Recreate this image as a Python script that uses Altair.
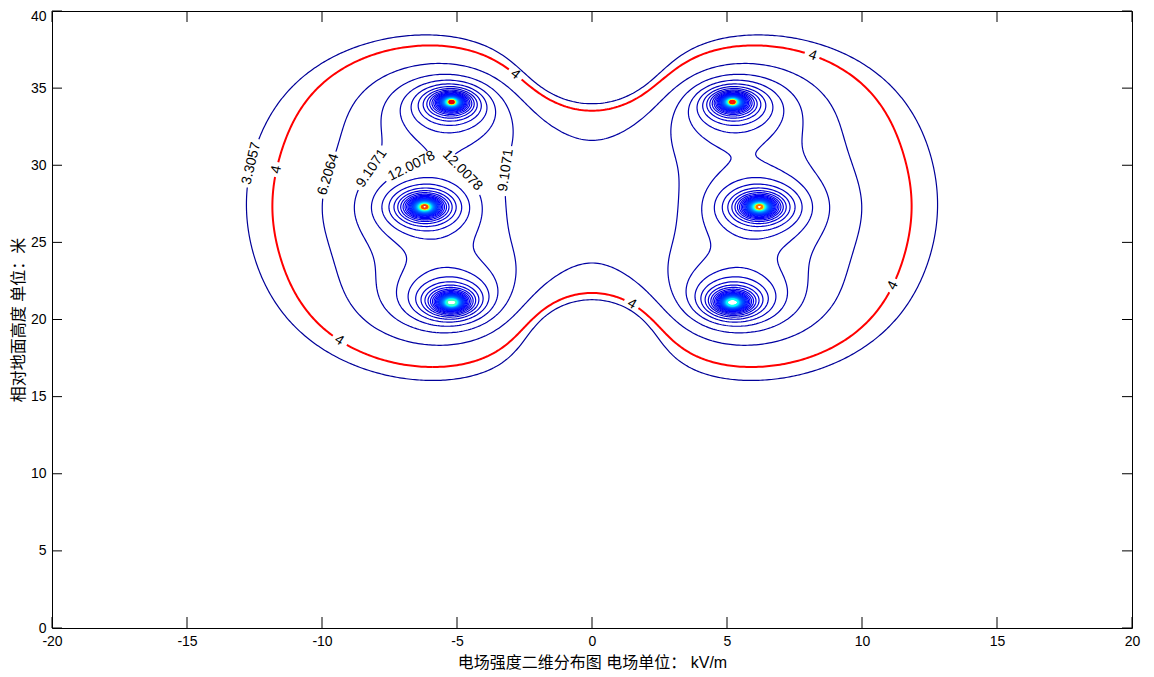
import numpy as np
import pandas as pd
import altair as alt

alt.data_transformers.disable_max_rows()

# ---------------- values ----------------
cond_x = [-5.2, -6.2, -5.2, 5.2, 6.2, 5.2]            # conductor x (m)
cond_y = [34.1, 27.3, 21.1, 34.1, 27.3, 21.1]          # conductor height (m)
cond_phase = [0, -120, 120, 0, -120, 120]              # nominal phase (deg)
cond_peak = [265, 240, 130, 255, 225, 115]             # highest ring level seen at each conductor (kV/m)

# points (x m, y m, level kV/m) used to size the line charges
fit_x = [-12.7, -6.0, -6.0, 0.0, 0.0, -11.74, -6.0, -6.0, 0.0, 0.0, -9.9, 0.0, 0.0, -8.67, -3.15, -6.26, -4.2]
fit_y = [28.0, 38.45, 15.95, 34.1, 21.0, 27.75, 37.8, 16.86, 33.6, 21.8, 28.4, 31.5, 23.9, 27.75, 27.75, 30.8, 26.8]
fit_level = [3.3057, 3.3057, 3.3057, 3.3057, 3.3057, 4, 4, 4, 4, 4, 6.2064, 6.2064, 6.2064,
             9.1071, 9.1071, 12.0078, 12.0078]
fit_weight = [4, 1, 1, 1, 1, 4, 1, 1, 1, 1, 2, 1, 1, 1, 1, 4, 1.5]

level_first = 3.3057
level_step = 2.9007
level_count = 100
red_level = 4.0

x_ticks = [-20, -15, -10, -5, 0, 5, 10, 15, 20]
y_ticks = [0, 5, 10, 15, 20, 25, 30, 35, 40]

label_text = ["3.3057", "4", "6.2064", "9.1071", "12.0078", "12.0078", "9.1071", "4", "4", "4", "4", "4"]
label_level = [3.3057, 4.0, 6.2064, 9.1071, 12.0078, 12.0078, 9.1071, 4.0, 4.0, 4.0, 4.0, 4.0]
label_x = [-12.4, -11.55, -9.7, -8.14, -6.8, -4.47, -3.06, -2.88, 8.13, 11.13, 1.42, -9.4]
label_y = [30.0, 29.7, 29.4, 29.8, 30.3, 30.3, 29.7, 35.85, 36.95, 22.24, 20.94, 18.55]

x_title = "电场强度二维分布图 电场单位： kV/m"
y_title = "相对地面高度 单位：米"

# ---------------- layout ----------------
W, H = 1080, 617
SX, SY = W / 40.0, H / 40.0
FONT = "Liberation Sans, Arial, Noto Sans CJK SC"

cx = np.array(cond_x, float)
cy = np.array(cond_y, float)
grp = np.arange(len(cx)) % 3


def magnitude(Ex, Ey):
    return np.sqrt(np.abs(Ex) ** 2 + np.abs(Ey) ** 2)


# ---------------- size the line charges on the read contour points ----------------
pxs = np.array(fit_x)
pys = np.array(fit_y)
G = np.zeros((len(cx), 2, len(pxs)))
for idx in range(len(cx)):
    for sgn, yy in ((1.0, cy[idx]), (-1.0, -cy[idx])):
        dx = pxs - cx[idx]
        dy = pys - yy
        r2 = dx * dx + dy * dy
        G[idx, 0] += sgn * dx / r2
        G[idx, 1] += sgn * dy / r2
LV = np.array(fit_level)
WT = np.array(fit_weight, float)


def group_fields(ph):
    F = np.zeros((3, 2, len(pxs)), complex)
    for idx in range(len(cx)):
        F[grp[idx]] += np.exp(1j * np.deg2rad(ph[grp[idx]])) * G[idx]
    return F


def ksearch(F, vt, vm, vb):
    KT, KM, KB = np.meshgrid(vt, vm, vb, indexing='ij')
    K = np.stack([KT.ravel(), KM.ravel(), KB.ravel()], 1).astype(complex)
    E = magnitude(K @ F[:, 0, :], K @ F[:, 1, :])
    err = ((np.log(E / LV) ** 2) * WT).sum(axis=1)
    i = int(np.argmin(err))
    return err[i], K[i].real


best = None
kv = np.arange(14, 36.1, 1.0)
for dm in range(-24, 25, 4):
    for db in range(-24, 25, 4):
        ph = [cond_phase[0], cond_phase[1] + dm, cond_phase[2] + db]
        e, k = ksearch(group_fields(ph), kv, kv, kv)
        if best is None or e < best[0]:
            best = (e, k, ph)
_, k0, ph0 = best
for dm in range(-3, 4):
    for db in range(-3, 4):
        ph = [ph0[0], ph0[1] + dm, ph0[2] + db]
        fine = np.arange(-1.0, 1.01, 0.1)
        e, k = ksearch(group_fields(ph), k0[0] + fine, k0[1] + fine, k0[2] + fine)
        if e < best[0]:
            best = (e, k, ph)
_, kfit, phfit = best
charges = np.array([kfit[g] * np.exp(1j * np.deg2rad(phfit[g])) for g in grp])


def field(X, Y):
    Ex = np.zeros(X.shape, complex)
    Ey = np.zeros(X.shape, complex)
    for xc, yc, q in zip(cx, cy, charges):
        for sgn, yy in ((1.0, yc), (-1.0, -yc)):
            dx = X - xc
            dy = Y - yy
            r2 = dx * dx + dy * dy
            Ex += sgn * q * dx / r2
            Ey += sgn * q * dy / r2
    return magnitude(Ex, Ey)


CASES = {1: [('l', 'b')], 2: [('b', 'r')], 3: [('l', 'r')], 4: [('r', 't')], 6: [('b', 't')],
         7: [('l', 't')], 8: [('t', 'l')], 9: [('b', 't')], 11: [('r', 't')], 12: [('l', 'r')],
         13: [('b', 'r')], 14: [('l', 'b')]}


def march(xs, ys, Z, level):
    B = Z > level
    c = B[:-1, :-1] * 1 + B[:-1, 1:] * 2 + B[1:, 1:] * 4 + B[1:, :-1] * 8
    cells = np.argwhere((c > 0) & (c < 15))

    def key(i, j, e):
        if e == 'b':
            return ('h', i, j)
        if e == 't':
            return ('h', i + 1, j)
        if e == 'l':
            return ('v', i, j)
        return ('v', i, j + 1)

    adj = {}
    for i, j in cells:
        i = int(i); j = int(j)
        cc = int(c[i, j])
        if cc == 5 or cc == 10:
            center = (Z[i, j] + Z[i, j + 1] + Z[i + 1, j] + Z[i + 1, j + 1]) / 4 > level
            if cc == 5:
                segs = [('b', 'r'), ('l', 't')] if center else [('l', 'b'), ('r', 't')]
            else:
                segs = [('l', 'b'), ('r', 't')] if center else [('b', 'r'), ('t', 'l')]
        else:
            segs = CASES[cc]
        for e1, e2 in segs:
            a = key(i, j, e1)
            b = key(i, j, e2)
            adj.setdefault(a, []).append(b)
            adj.setdefault(b, []).append(a)

    def pt(k):
        t, i, j = k
        if t == 'h':
            z0, z1 = Z[i, j], Z[i, j + 1]
            f = (level - z0) / (z1 - z0)
            return (xs[j] + f * (xs[j + 1] - xs[j]), ys[i])
        z0, z1 = Z[i, j], Z[i + 1, j]
        f = (level - z0) / (z1 - z0)
        return (xs[j], ys[i] + f * (ys[i + 1] - ys[i]))

    visited = set()

    def walk(start):
        path = [start]
        visited.add(start)
        cur = start
        while True:
            nxt = None
            for n in adj[cur]:
                if n not in visited:
                    nxt = n
                    break
            if nxt is None:
                break
            path.append(nxt)
            visited.add(nxt)
            cur = nxt
        return path

    out = []
    for k, v in adj.items():
        if len(v) == 1 and k not in visited:
            p = walk(k)
            out.append((np.array([pt(q) for q in p]), False))
    for k in adj:
        if k not in visited:
            p = walk(k)
            closed = len(p) > 2 and p[0] in adj[p[-1]]
            if closed:
                p.append(p[0])
            out.append((np.array([pt(q) for q in p]), closed))
    return out


def to_px(P):
    return np.column_stack(((P[:, 0] + 20) * SX, (40 - P[:, 1]) * SY))


def decimate(P, min_px=1.5):
    Q = to_px(P)
    keep = [0]
    lx, ly = Q[0]
    for k in range(1, len(P) - 1):
        if (Q[k, 0] - lx) ** 2 + (Q[k, 1] - ly) ** 2 >= min_px * min_px:
            keep.append(k)
            lx, ly = Q[k]
    keep.append(len(P) - 1)
    return P[keep]


levels = [level_first + level_step * j for j in range(level_count)]
lines = []   # dicts: level, red, P, closed

gx = np.arange(-16.0, 16.0001, 0.04)
gy = np.arange(12.0, 40.0001, 0.04)
GX, GY = np.meshgrid(gx, gy)
GZ = field(GX, GY)
for lv in levels[:7]:
    for P, closed in march(gx, gy, GZ, lv):
        if len(P) > 2:
            lines.append(dict(level=lv, red=False, P=decimate(P), closed=closed))
for P, closed in march(gx, gy, GZ, red_level):
    if len(P) > 2:
        lines.append(dict(level=red_level, red=True, P=decimate(P), closed=closed))

n_loc = 320
off = (np.arange(n_loc) - (n_loc - 1) / 2.0) * 0.01
for xc, yc, peak in zip(cond_x, cond_y, cond_peak):
    lx = xc + off
    ly = yc + off
    LX, LY = np.meshgrid(lx, ly)
    LZ = field(LX, LY)
    for lv in levels[7:]:
        if lv > peak:
            break
        for P, closed in march(lx, ly, LZ, lv):
            if closed and len(P) > 3:
                lines.append(dict(level=lv, red=False, P=decimate(P, 1.2), closed=True))


def text_width(s):
    return sum(3.9 if ch == '.' else 7.8 for ch in s)


lab_rows = []
for txt, lv, lxv, lyv in zip(label_text, label_level, label_x, label_y):
    is_red = abs(lv - red_level) < 1e-6
    cands = [ln for ln in lines if ln['red'] == is_red and abs(ln['level'] - lv) < 1e-3]
    if not cands:
        continue
    target = np.array([(lxv + 20) * SX, (40 - lyv) * SY])
    best = None
    for ln in cands:
        Q = to_px(ln['P'])
        d = ((Q - target) ** 2).sum(axis=1)
        k = int(np.argmin(d))
        if best is None or d[k] < best[0]:
            best = (d[k], ln, k)
    _, ln, k = best
    Q = to_px(ln['P'])
    n = len(Q)
    if ln['closed']:
        a = Q[(k - 4) % (n - 1)]
        b = Q[(k + 4) % (n - 1)]
    else:
        a = Q[max(k - 4, 0)]
        b = Q[min(k + 4, n - 1)]
    ang = np.degrees(np.arctan2(b[1] - a[1], b[0] - a[0]))
    while ang >= 85:
        ang -= 180
    while ang < -95:
        ang += 180
    c = Q[k]
    lab_rows.append(dict(x=c[0] / SX - 20, y=40 - c[1] / SY, text=txt, angle=float(ang % 360)))
    th = np.radians(ang)
    d1 = np.array([np.cos(th), np.sin(th)])
    d2 = np.array([-np.sin(th), np.cos(th)])
    hw = text_width(txt) / 2 + 2.5
    hh = 6.0
    new_lines = []
    for ln2 in lines:
        if ln2['red'] != is_red or abs(ln2['level'] - lv) > 1e-3:
            new_lines.append(ln2)
            continue
        Q2 = to_px(ln2['P'])
        u = (Q2 - c) @ d1
        v = (Q2 - c) @ d2
        inside = (np.abs(u) < hw) & (np.abs(v) < hh)
        if not inside.any():
            new_lines.append(ln2)
            continue
        start = None
        for idx in range(len(Q2) + 1):
            if idx < len(Q2) and not inside[idx]:
                if start is None:
                    start = idx
            else:
                if start is not None and idx - start >= 2:
                    new_lines.append(dict(level=ln2['level'], red=is_red,
                                          P=ln2['P'][start:idx], closed=False))
                start = None
    lines = new_lines

rows_b, rows_r = [], []
for lid, ln in enumerate(lines):
    target = rows_r if ln['red'] else rows_b
    for o, (x, y) in enumerate(ln['P']):
        target.append((round(float(x), 4), round(float(y), 4), lid, o, ln['level']))
df_blue = pd.DataFrame(rows_b, columns=['x', 'y', 'line', 'ord', 'level'])
df_red = pd.DataFrame(rows_r, columns=['x', 'y', 'line', 'ord', 'level'])
df_lab = pd.DataFrame(lab_rows)
df_xt = pd.DataFrame({'v': x_ticks})
df_yt = pd.DataFrame({'v': y_ticks})

lo = level_first - level_step
hi = level_first + level_step * level_count
span = hi - lo
jet = alt.Scale(domain=[lo, lo + span / 8, lo + 3 * span / 8, lo + 5 * span / 8, lo + 7 * span / 8, hi],
                range=['#00008F', '#0000FF', '#00FFFF', '#FFFF00', '#FF0000', '#800000'],
                interpolate='rgb')

xs = alt.Scale(domain=[-20, 20], nice=False, zero=False)
ys = alt.Scale(domain=[0, 40], nice=False, zero=False)

x_axis = alt.Axis(values=x_ticks, ticks=False, domain=False, grid=False, labelFlush=False,
                  labelExpr="'' + datum.value", labelFont=FONT, labelFontSize=14,
                  labelColor='black', labelPadding=6, title=x_title, titleFont=FONT,
                  titleFontSize=16, titleFontWeight='normal', titleColor='black', titlePadding=6)
y_axis = alt.Axis(values=y_ticks, ticks=False, domain=False, grid=False, labelFlush=False,
                  labelExpr="'' + datum.value", labelFont=FONT, labelFontSize=14,
                  labelColor='black', labelPadding=6, title=y_title, titleFont=FONT,
                  labelOffset={"condition": {"test": "datum.value == 40", "value": 5}, "value": 0},
                  titleFontSize=16, titleFontWeight='normal', titleColor='black', titlePadding=4)

X = lambda f: alt.X(f, scale=xs, axis=x_axis, title=x_title)
Y = lambda f: alt.Y(f, scale=ys, axis=y_axis, title=y_title)

blue = alt.Chart(df_blue).mark_line(strokeWidth=1.2, clip=True).encode(
    x=X('x:Q'), y=Y('y:Q'),
    detail='line:N',
    order='ord:Q',
    color=alt.Color('level:Q', scale=jet, legend=None),
)
red = alt.Chart(df_red).mark_line(strokeWidth=2, color='#FF0000', clip=True).encode(
    x=X('x:Q'), y=Y('y:Q'),
    detail='line:N',
    order='ord:Q',
)
labels = alt.Chart(df_lab).mark_text(font=FONT, fontSize=14, color='black', align='center',
                                     baseline='middle').encode(
    x=X('x:Q'), y=Y('y:Q'),
    text='text:N',
    angle=alt.Angle('angle:Q', scale=None),
)
tick_bottom = alt.Chart(df_xt).mark_rule(color='black', strokeWidth=1).encode(
    x=X('v:Q'), y=alt.value(H), y2=alt.value(H - 11))
tick_top = alt.Chart(df_xt).mark_rule(color='black', strokeWidth=1).encode(
    x=X('v:Q'), y=alt.value(0), y2=alt.value(11))
tick_left = alt.Chart(df_yt).mark_rule(color='black', strokeWidth=1).encode(
    y=Y('v:Q'), x=alt.value(0), x2=alt.value(10))
tick_right = alt.Chart(df_yt).mark_rule(color='black', strokeWidth=1).encode(
    y=Y('v:Q'), x=alt.value(W), x2=alt.value(W - 10))

chart = alt.layer(blue, red, labels, tick_bottom, tick_top, tick_left, tick_right).properties(
    width=W, height=H,
    padding={"left": 44, "top": 3, "right": 14, "bottom": 44},
    autosize=alt.AutoSizeParams(type='none'),
    background='white',
).configure_view(stroke='black', strokeWidth=1)

chart.save("out.html", embed_options={"renderer": "svg", "actions": False})
